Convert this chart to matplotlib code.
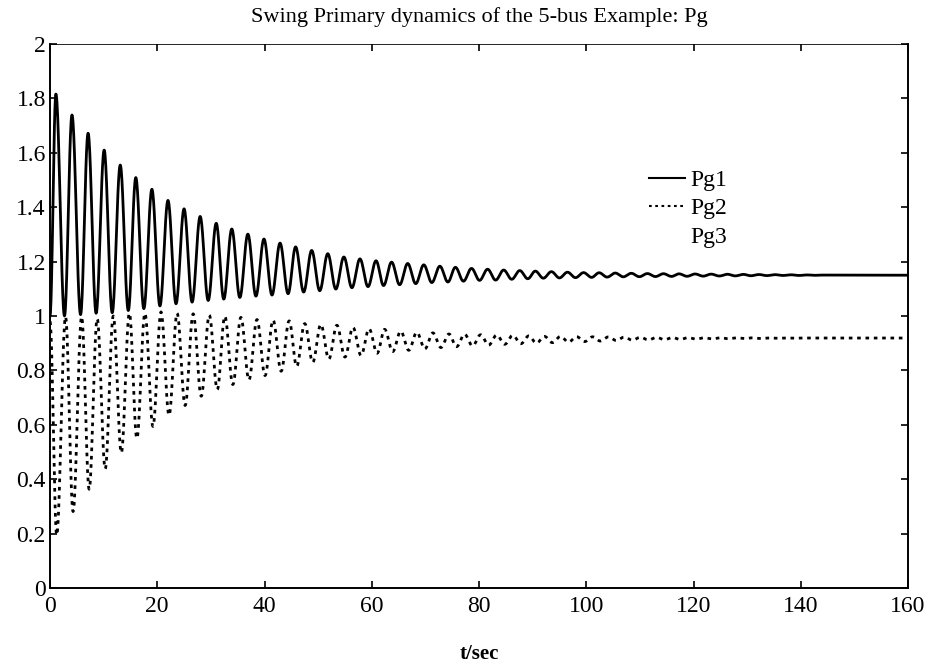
import numpy as np
import matplotlib
matplotlib.use("Agg")
import matplotlib.pyplot as plt
from matplotlib.lines import Line2D

# ---- data: extrema (time in s, value) ----
pg1_peak_t = [1.1, 4.1, 7.1, 10.1, 13.1, 16.0, 19.0, 22.0, 25.0, 28.0, 31.0, 33.9, 36.9, 39.9,
              42.9, 45.8, 48.8, 51.8, 54.8, 57.8, 60.8, 63.7, 66.7, 69.7, 72.7, 75.6, 78.6,
              81.6, 84.6, 87.6, 90.5, 93.5, 96.5, 99.5, 102.4, 105.4, 108.4, 111.4, 114.4,
              117.3, 120.3, 123.3, 126.3, 129.3, 132.2, 135.2, 138.2, 141.2, 144.1]
pg1_peak_v = [1.816, 1.739, 1.672, 1.610, 1.555, 1.509, 1.466, 1.425, 1.394, 1.366, 1.341,
              1.320, 1.301, 1.283, 1.268, 1.254, 1.241, 1.229, 1.217, 1.210, 1.203, 1.198,
              1.193, 1.188, 1.183, 1.179, 1.175, 1.172, 1.169, 1.167, 1.165, 1.163, 1.161,
              1.1595, 1.159, 1.158, 1.157, 1.156, 1.1555, 1.155, 1.1545, 1.154, 1.1535,
              1.153, 1.1525, 1.152, 1.1515, 1.151, 1.1505]
pg1_trough_t = [0.0, 2.7, 5.7, 8.6, 11.6, 14.6, 17.5, 20.5, 23.5, 26.5, 29.5, 32.4, 35.4,
                38.4, 41.4, 44.4, 47.3, 50.3, 53.3, 56.3, 59.3, 62.2, 65.2, 68.2, 71.2, 74.2,
                77.1, 80.1, 83.1, 86.1, 89.1, 92.0, 95.0, 98.0, 101.0, 103.9, 106.9, 109.9,
                112.9, 115.9, 118.8, 121.8, 124.8, 127.8, 130.7, 133.7, 136.7, 139.7, 142.6,
                160.0]
pg1_trough_v = [1.000, 1.000, 1.005, 1.010, 1.012, 1.020, 1.027, 1.037, 1.045, 1.051, 1.057,
                1.062, 1.068, 1.073, 1.077, 1.082, 1.088, 1.093, 1.099, 1.104, 1.108, 1.112,
                1.115, 1.119, 1.123, 1.125, 1.128, 1.131, 1.132, 1.135, 1.137, 1.139, 1.140,
                1.141, 1.142, 1.143, 1.144, 1.1445, 1.145, 1.1455, 1.146, 1.1465, 1.147,
                1.1475, 1.148, 1.1485, 1.149, 1.149, 1.1495, 1.150]

pg2_trough_t = [1.25, 4.3, 7.3, 10.3, 13.3, 16.2, 19.2, 22.2, 25.2, 28.2, 31.2, 34.1, 37.1,
                40.1, 43.1, 46.0, 49.0, 52.0, 55.0, 58.0, 61.0, 63.9, 66.9, 69.9, 72.9, 75.8,
                78.8, 81.8, 84.8, 87.8, 90.7, 93.7, 96.7, 99.7, 102.6, 105.6, 108.6, 111.6,
                114.6, 117.5, 120.5, 123.5, 126.5, 129.5, 132.4, 135.4, 138.4, 141.4]
pg2_trough_v = [0.195, 0.281, 0.363, 0.438, 0.497, 0.550, 0.594, 0.635, 0.671, 0.705, 0.730,
                0.748, 0.765, 0.781, 0.797, 0.815, 0.830, 0.842, 0.849, 0.855, 0.863, 0.869,
                0.874, 0.879, 0.884, 0.887, 0.890, 0.893, 0.896, 0.898, 0.900, 0.902, 0.904,
                0.906, 0.908, 0.910, 0.911, 0.912, 0.913, 0.914, 0.915, 0.916, 0.9165, 0.917,
                0.9175, 0.918, 0.9185, 0.919]
pg2_peak_t = [0.0, 2.9, 5.9, 8.8, 11.8, 14.8, 17.7, 20.7, 23.7, 26.7, 29.7, 32.6, 35.6, 38.6,
              41.6, 44.6, 47.5, 50.5, 53.5, 56.5, 59.5, 62.4, 65.4, 68.4, 71.4, 74.4, 77.3,
              80.3, 83.3, 86.3, 89.3, 92.2, 95.2, 98.2, 101.2, 104.1, 107.1, 110.1, 113.1,
              116.1, 119.0, 122.0, 125.0, 128.0, 130.9, 133.9, 136.9, 139.9, 160.0]
pg2_peak_v = [0.980, 0.997, 0.997, 0.990, 1.000, 1.010, 1.010, 1.015, 1.010, 1.008, 1.003,
              0.999, 0.995, 0.987, 0.985, 0.982, 0.972, 0.969, 0.966, 0.958, 0.953, 0.951,
              0.944, 0.940, 0.938, 0.934, 0.933, 0.931, 0.930, 0.929, 0.927, 0.925, 0.925,
              0.924, 0.9235, 0.923, 0.9225, 0.922, 0.9215, 0.921, 0.9205, 0.920, 0.920,
              0.9198, 0.9196, 0.9194, 0.9192, 0.919, 0.919]

series_labels = ["Pg1", "Pg2", "Pg3"]
x_ticks = [0, 20, 40, 60, 80, 100, 120, 140, 160]
y_ticks = [0, 0.2, 0.4, 0.6, 0.8, 1.0, 1.2, 1.4, 1.6, 1.8, 2.0]
y_tick_labels = ["0", "0.2", "0.4", "0.6", "0.8", "1", "1.2", "1.4", "1.6", "1.8", "2"]
title = "Swing Primary dynamics of the 5-bus Example: Pg"
xlabel = "t/sec"


def smooth_curve(tp, vp, tt, vt, n=24):
    """Join the extrema with half-cosine segments (oscillation shape)."""
    pts = sorted(zip(list(tp) + list(tt), list(vp) + list(vt)))
    ts, vs = [], []
    for (t0, v0), (t1, v1) in zip(pts[:-1], pts[1:]):
        s = np.linspace(0, 1, n, endpoint=False)
        ts.append(t0 + (t1 - t0) * s)
        vs.append(v0 + (v1 - v0) * (1 - np.cos(np.pi * s)) / 2)
    ts.append([pts[-1][0]])
    vs.append([pts[-1][1]])
    return np.concatenate(ts), np.concatenate(vs)


plt.rcParams['font.family'] = ['Liberation Serif', 'DejaVu Serif']

fig = plt.figure(figsize=(9.32, 6.67), dpi=100)
ax = fig.add_axes([50 / 932, 1 - 588 / 667, 858 / 932, 544 / 667])

t1, v1 = smooth_curve(pg1_peak_t, pg1_peak_v, pg1_trough_t, pg1_trough_v)
t2, v2 = smooth_curve(pg2_peak_t, pg2_peak_v, pg2_trough_t, pg2_trough_v)
ax.plot(t1, v1, color='black', lw=2.0, ls='-')
ax.plot(t2, v2, color='black', lw=2.0, ls=(0, (1.3, 1.7)))

ax.set_xlim(0, 160)
ax.set_ylim(0, 2)
ax.set_xticks(x_ticks)
ax.set_xticklabels([str(v) for v in x_ticks])
ax.set_yticks(y_ticks)
ax.set_yticklabels(y_tick_labels)
ax.tick_params(direction='in', top=True, right=True, length=5, width=1.2,
               labelsize=17, colors='black')
ax.tick_params(axis='x', pad=6)
ax.tick_params(axis='y', pad=3)
for sp in ax.spines.values():
    sp.set_linewidth(1.4)
ax.spines['top'].set_linewidth(0.6)

ax.set_title(title, fontsize=16, pad=15.5)
ax.set_xlabel(xlabel, fontsize=15, fontweight='bold', labelpad=19)

handles = [Line2D([], [], color='black', lw=1.5, ls='-'),
           Line2D([], [], color='black', lw=1.5, ls=(0, (1.3, 1.7))),
           Line2D([], [], color='none', lw=1.5)]
ax.legend(handles, series_labels, loc='upper left', bbox_to_anchor=(0.687, 0.787),
          frameon=False, fontsize=17, handlelength=1.55, handletextpad=0.2,
          labelspacing=0.29, borderaxespad=0.0)

fig.savefig("out.png", dpi=100)
